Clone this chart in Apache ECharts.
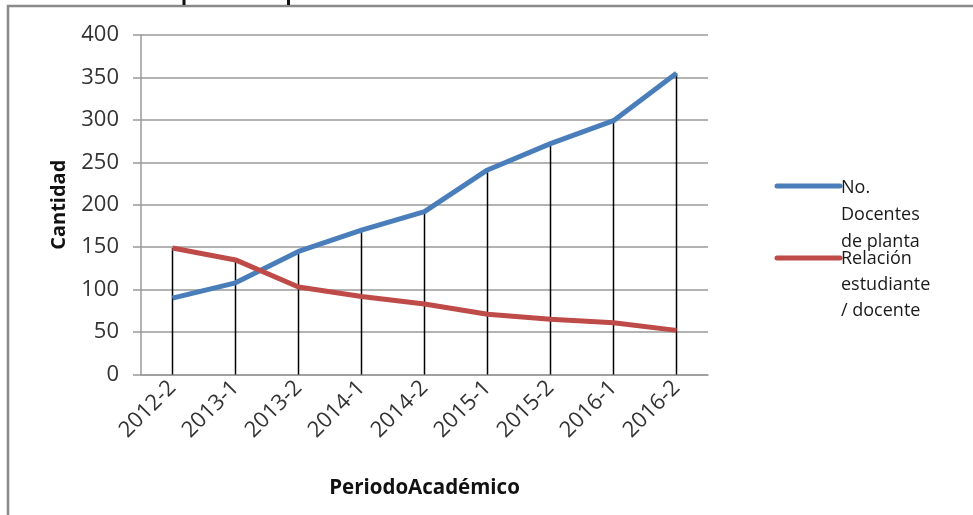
<!DOCTYPE html>
<html>
<head>
<meta charset="utf-8">
<script src="https://cdn.jsdelivr.net/npm/echarts@6/dist/echarts.min.js"></script>
<style>html,body{margin:0;padding:0;background:#fff;}#c{width:973px;height:515px;}</style>
</head>
<body>
<div id="c"></div>
<script>
const categories = ['2012-2','2013-1','2013-2','2014-1','2014-2','2015-1','2015-2','2016-1','2016-2'];
const docentes = [90,108,145,170,192,241,272,299,355];
const relacion = [149,135,103,92,83,71,65,61,52];
const seriesNames = ['No.\nDocentes\nde planta', 'Relación\nestudiante\n/ docente'];
const yTicks = {min:0, max:400, interval:50};

const dropValues = categories.map((c,i)=>Math.max(docentes[i], relacion[i]));
const FONT = 'Open Sans';
const chart = echarts.init(document.getElementById('c'));
chart.setOption({
  animation:false,
  backgroundColor:'#fff',
  grid:{left:141, right:265, top:35, bottom:140.5},
  xAxis:{
    type:'category', data:categories, boundaryGap:true,
    axisLine:{lineStyle:{color:'#9a9a9a', width:1.5}},
    axisTick:{show:false},
    axisLabel:{rotate:45, fontFamily:FONT, fontSize:22, color:'#333', margin:10, interval:0},
    name:'PeriodoAcadémico', nameLocation:'middle', nameGap:103,
    nameTextStyle:{fontFamily:FONT, fontWeight:'bold', fontSize:20.5, color:'#111'}
  },
  yAxis:{
    type:'value', min:yTicks.min, max:yTicks.max, interval:yTicks.interval,
    axisLine:{show:true, lineStyle:{color:'#9a9a9a', width:1.5}},
    axisTick:{show:true, length:8, lineStyle:{color:'#9a9a9a', width:1.5}},
    splitLine:{lineStyle:{color:'#9a9a9a', width:1.5}},
    axisLabel:{fontFamily:FONT, fontSize:22, color:'#333', margin:22},
    name:'Cantidad', nameLocation:'middle', nameGap:72,
    nameTextStyle:{fontFamily:FONT, fontWeight:'bold', fontSize:20, color:'#111'}
  },
  series:[
    {name:'drop', type:'bar', data:dropValues, barWidth:1.5, z:1,
     itemStyle:{color:'#000'}, silent:true},
    {name:seriesNames[0], type:'line', data:docentes, symbol:'none', z:3,
     lineStyle:{color:'#4a7ebb', width:5}, itemStyle:{color:'#4a7ebb'}},
    {name:seriesNames[1], type:'line', data:relacion, symbol:'none', z:3,
     lineStyle:{color:'#be4b48', width:5}, itemStyle:{color:'#be4b48'}}
  ],
  graphic:[
    {type:'polyline', shape:{points:[[8,515],[8,6],[973,6]]}, style:{stroke:'#8a8a8a', lineWidth:2.5, fill:null}},
    {type:'rect', shape:{x:182.5,y:0,width:3,height:5}, style:{fill:'#111'}},
    {type:'rect', shape:{x:287,y:0,width:3,height:5}, style:{fill:'#111'}},
    {type:'line', shape:{x1:777,y1:186,x2:840,y2:186}, style:{stroke:'#4a7ebb', lineWidth:5, lineCap:'round'}},
    {type:'line', shape:{x1:777,y1:258,x2:840,y2:258}, style:{stroke:'#be4b48', lineWidth:5, lineCap:'round'}},
    {type:'text', x:841, y:174, style:{text:seriesNames[0], font:'18px "Open Sans"', fill:'#1a1a1a', lineHeight:27}},
    {type:'text', x:841, y:246, style:{text:seriesNames[1], font:'18px "Open Sans"', fill:'#1a1a1a', lineHeight:26}}
  ]
});
</script>
</body>
</html>
